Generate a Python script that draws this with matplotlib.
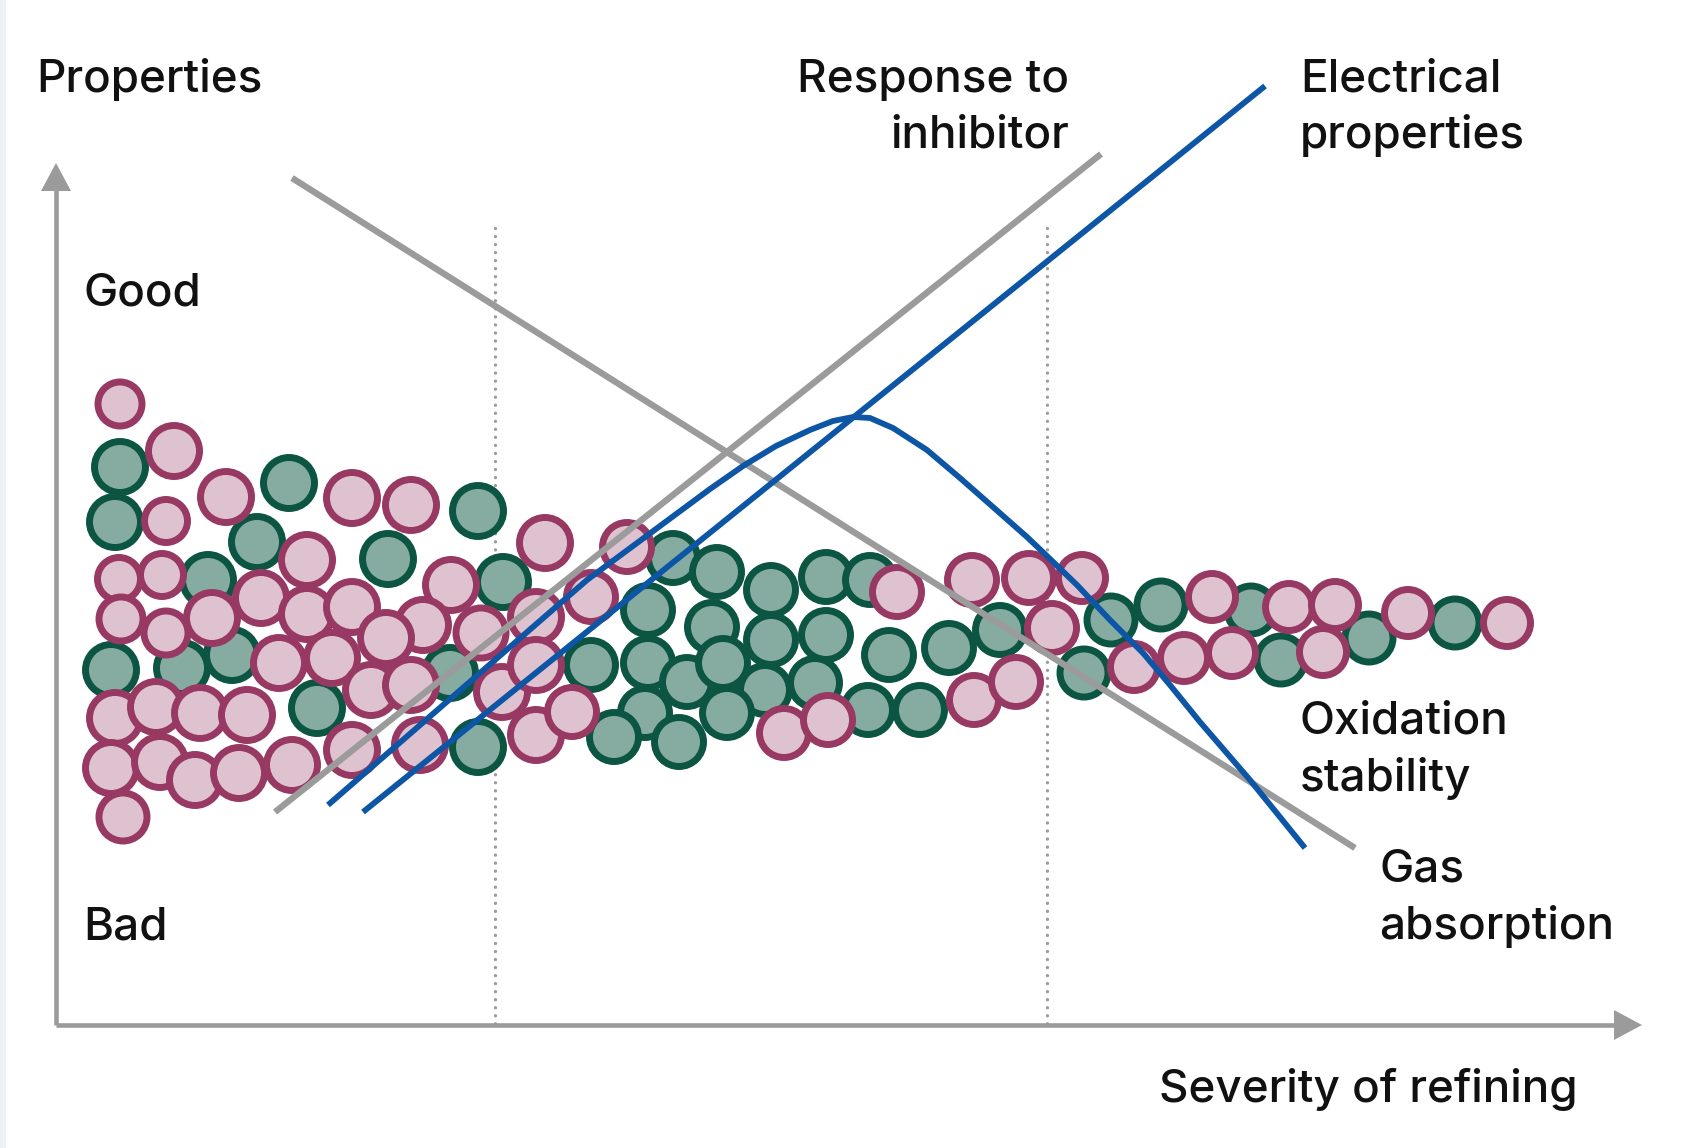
import numpy as np
import matplotlib
matplotlib.use("Agg")
import matplotlib.pyplot as plt
from matplotlib.patches import Circle, Polygon, Rectangle

plt.rcParams['font.family'] = ['Inter', 'DejaVu Sans']

# schematic in pixel units of the original picture (y grows downwards)
W, H = 1684, 1148

# pink circles: centre x, centre y, radius
pink_x = [120, 174, 166, 226, 352, 411, 545, 307, 119, 162, 261, 451, 121, 166, 212, 307,
          352, 423, 386, 481, 536, 279, 332, 371, 411, 502, 536, 115, 156, 200, 247, 111,
          160, 195, 239, 292, 352, 420, 536, 123,
          627, 591, 897, 972, 1029, 1052, 572, 974, 1016, 784, 828,
          1082, 1212, 1289, 1335, 1408, 1507, 1134, 1184, 1232, 1323]
pink_y = [404, 451, 521, 497, 498, 505, 543, 560, 579, 575, 598, 585, 619, 633, 618, 614,
          607, 625, 638, 633, 617, 663, 658, 690, 685, 692, 665, 718, 707, 713, 715, 768,
          762, 780, 773, 765, 750, 745, 735, 817,
          547, 597, 592, 580, 578, 628, 712, 700, 682, 733, 720,
          578, 597, 607, 605, 613, 623, 667, 658, 653, 652]
pink_r = [22, 25.5, 21.5, 25.5, 25.5, 25.5, 25.5, 25.5, 21.5, 21.5, 25.5, 25.5, 22, 22, 25.5, 25.5,
          25.5, 25.5, 25.5, 25, 25.5, 25.5, 25.5, 25.5, 25.5, 25.5, 25.5, 25.5, 25.5, 25.5, 25.5, 25.5,
          25.5, 25.5, 25.5, 25.5, 25.5, 25.5, 25.5, 24,
          24.5, 24.5, 24.5, 24.5, 24.5, 24.5, 24.5, 24.5, 24.5, 24.5, 24.5,
          23.5, 23.5, 23.5, 23.5, 23.5, 23.5, 23.5, 23.5, 23.5, 23.5]

# green circles
green_x = [120, 115, 289, 478, 257, 388, 208, 503, 111, 182, 232, 450, 317, 478,
           673, 717, 648, 771, 826, 870, 712, 771, 826, 889, 949, 1000, 591, 648, 687,
           723, 765, 815, 645, 727, 868, 920, 614, 679,
           1111, 1161, 1251, 1369, 1455, 1084, 1281]
green_y = [467, 522, 483, 511, 542, 559, 580, 582, 670, 668, 655, 673, 708, 747,
           558, 572, 610, 590, 577, 580, 627, 640, 635, 655, 648, 630, 665, 663, 682,
           663, 690, 683, 713, 713, 710, 710, 737, 742,
           620, 605, 610, 638, 623, 673, 660]
green_r = [25.5] * 14 + [24.5] * 24 + [24] * 7

# curves
gas_x = [292, 1355]
gas_y = [178, 848]
inhib_x = [275, 1101]
inhib_y = [812, 154]
elec_x = [363, 1265]
elec_y = [812, 86]
oxid_x = [328, 480, 587, 660, 710, 743, 776, 810, 833, 853, 870, 893, 927, 960, 993,
          1027, 1048, 1077, 1110, 1143, 1170, 1200, 1250, 1305]
oxid_y = [805, 673, 580, 526, 489, 466, 446, 430, 421, 417, 418, 428, 450, 478, 507,
          537, 557, 585, 620, 653, 685, 722, 780, 848]

divider_x = [495, 1047]

pink_face, pink_edge = '#dfc2cf', '#973963'
green_face, green_edge = '#86aba1', '#0b5542'
blue = '#0d55a5'
grey = '#9b9b9b'

fig = plt.figure(figsize=(W / 100, H / 100), dpi=100)
ax = fig.add_axes([0, 0, 1, 1])
ax.set_xlim(0, W)
ax.set_ylim(H, 0)
ax.axis('off')

# faint strip on the left edge
ax.add_patch(Rectangle((0, 0), 6, H, color='#eef2f7', lw=0))

# axes with arrows
ax.plot([56, 56], [1025, 185], color=grey, lw=3.3, solid_capstyle='butt')
ax.plot([56, 1620], [1025, 1025], color=grey, lw=3.3, solid_capstyle='butt')
ax.add_patch(Polygon([[41, 191], [71, 191], [56, 163]], closed=True, color=grey, lw=0))
ax.add_patch(Polygon([[1614, 1010], [1614, 1040], [1642, 1025]], closed=True, color=grey, lw=0))

# dotted dividers
for dx in divider_x:
    ax.plot([dx, dx], [228, 1025], color=grey, lw=2.4, linestyle=(0, (0.01, 2.4)),
            dash_capstyle='round')

# circles: greens underneath, pinks on top
for x, y, r in zip(green_x, green_y, green_r):
    ax.add_patch(Circle((x, y), r, facecolor=green_face, edgecolor=green_edge, lw=5.0, zorder=3))
for x, y, r in zip(pink_x, pink_y, pink_r):
    ax.add_patch(Circle((x, y), r, facecolor=pink_face, edgecolor=pink_edge, lw=5.0, zorder=4))

# lines
ax.plot(gas_x, gas_y, color=grey, lw=4.6, zorder=5, solid_capstyle='butt')
ax.plot(inhib_x, inhib_y, color=grey, lw=4.6, zorder=5, solid_capstyle='butt')
ax.plot(elec_x, elec_y, color=blue, lw=4.2, zorder=6, solid_capstyle='butt')
ax.plot(oxid_x, oxid_y, color=blue, lw=4.2, zorder=6, solid_capstyle='butt',
        solid_joinstyle='round')

# labels
txt = dict(fontsize=33, fontweight='medium', color='#111111', va='baseline')
ax.text(36, 92, 'Properties', ha='left', **txt)
ax.text(83, 305, 'Good', ha='left', **txt)
ax.text(83, 940, 'Bad', ha='left', **txt)
ax.text(1069, 92, 'Response to', ha='right', **txt)
ax.text(1069, 148, 'inhibitor', ha='right', **txt)
ax.text(1300, 92, 'Electrical', ha='left', **txt)
ax.text(1300, 148, 'properties', ha='left', **txt)
ax.text(1300, 734, 'Oxidation', ha='left', **txt)
ax.text(1300, 791, 'stability', ha='left', **txt)
ax.text(1379, 882, 'Gas', ha='left', **txt)
ax.text(1379, 939, 'absorption', ha='left', **txt)
ax.text(1578, 1102, 'Severity of refining', ha='right', **txt)

fig.savefig('out.png', dpi=100)
